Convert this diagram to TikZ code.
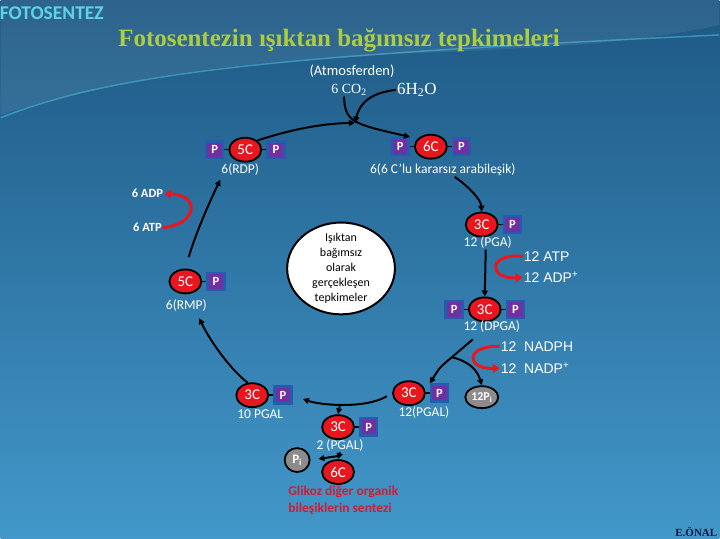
\documentclass[tikz,border=0pt]{standalone}
\usepackage{fontspec}
\setmainfont{Carlito}
\newfontfamily\titlefont{Liberation Serif}
\newfontfamily\armfont{Liberation Sans}
\usetikzlibrary{arrows.meta, positioning, calc, shapes.geometric}
\definecolor{bgtop}{RGB}{30,88,132}
\definecolor{bgbot}{RGB}{66,152,202}
\definecolor{cred}{RGB}{232,22,30}
\definecolor{ppurple}{RGB}{112,48,160}
\definecolor{pblue}{RGB}{36,92,176}
\definecolor{pigrey}{RGB}{140,140,140}
\definecolor{titlegreen}{RGB}{172,206,62}
\definecolor{headcyan}{RGB}{92,212,230}
\definecolor{glred}{RGB}{204,30,52}
\definecolor{signblue}{RGB}{20,24,64}
\tikzset{
  carb/.style  ={ellipse, draw=black, line width=1.8pt, fill=cred, text=white, inner sep=0pt,
                 minimum width=32pt, minimum height=24pt, font=\fontsize{15}{15}\selectfont},
  pbox/.style  ={draw=pblue, line width=2.6pt, fill=ppurple, text=white, minimum size=17pt,
                 inner sep=0pt, font=\bfseries\fontsize{12.5}{12.5}\selectfont},
  pion/.style  ={ellipse, draw=black, line width=1.8pt, fill=pigrey, text=white, inner sep=0pt,
                 minimum width=33pt, minimum height=22pt, font=\bfseries\fontsize{12}{12}\selectfont},
  lbl/.style   ={text=white, inner sep=1pt, font=\fontsize{13.5}{14}\selectfont},
  gas/.style   ={text=white, inner sep=1pt, font=\titlefont\fontsize{14}{14}\selectfont},
  side/.style  ={text=white, inner sep=1pt, font=\bfseries\fontsize{12.5}{13}\selectfont},
  arm/.style   ={text=white, inner sep=1pt, anchor=west, font=\armfont\fontsize{14}{14}\selectfont},
  core/.style  ={ellipse, draw=black, line width=2pt, fill=white, minimum width=108pt,
                 minimum height=92pt, inner sep=0pt},
  coretxt/.style={align=center, inner sep=0pt, font=\fontsize{12}{15}\selectfont},
  head/.style  ={text=headcyan, inner sep=0pt, anchor=west, font=\bfseries\fontsize{19.5}{19.5}\selectfont},
  ttl/.style   ={text=titlegreen, font=\titlefont\bfseries\fontsize{25}{25}\selectfont},
  gluc/.style  ={text=glred, align=left, anchor=west, inner sep=0pt, font=\bfseries\fontsize{13.5}{17}\selectfont},
  sign/.style  ={text=signblue, inner sep=0pt, font=\titlefont\bfseries\fontsize{11}{11}\selectfont},
  arr/.style   ={-{Triangle[length=6pt, width=6pt]}, line width=2pt},
  redarr/.style={-{Triangle[length=7pt, width=9pt]}, line width=3pt, draw=cred},
  bond/.style  ={line width=1.5pt},
}
\begin{document}
\begin{tikzpicture}[x=1pt, y=-1pt, node distance=4pt]
  \shade[top color=bgtop, bottom color=bgbot] (0,0) rectangle (720,540);
  \fill[white, opacity=0.07] (0,0) -- (720,0) -- (720,25) .. controls (520,70) and (260,30) .. (0,115) -- cycle;
  \draw[headcyan, opacity=0.45, line width=1.5pt] (0,118) .. controls (120,70) and (300,55) .. (720,35);
  \useasboundingbox (0,0) rectangle (720,540);

  \node[head] (head) at (-1,13) {FOTOSENTEZ};
  \node[ttl] (title) at (339,41) {Fotosentezin ışıktan bağımsız tepkimeleri};
  \node[lbl, font=\fontsize{14.5}{15}\selectfont] (atm) at (352,71) {(Atmosferden)};
  \node[gas] (co2) at (349,90) {6 CO\textsubscript{2}};
  \node[gas, font=\titlefont\fontsize{17}{17}\selectfont] (h2o) at (417,90) {6H\textsubscript{2}O};

  \node[carb] (c5a) at (245,150) {5C};
  \node[pbox, left=of c5a] (pa1) {P};
  \node[pbox, right=of c5a] (pa2) {P};
  \node[lbl] (lrdp) at (240,170) {6(RDP)};

  \node[carb] (c6a) at (431,147) {6C};
  \node[pbox, left=of c6a] (pb1) {P};
  \node[pbox, right=of c6a] (pb2) {P};
  \node[lbl] (l6c) at (443,170) {6(6 C'lu kararsız arabileşik)};

  \node[carb] (c3a) at (482,225) {3C};
  \node[pbox, right=of c3a] (pc1) {P};
  \node[lbl] (lpga) at (488,243) {12 (PGA)};

  \node[carb] (c3b) at (485,310) {3C};
  \node[pbox, left=of c3b] (pd1) {P};
  \node[pbox, right=of c3b] (pd2) {P};
  \node[lbl] (ldpga) at (492,327) {12 (DPGA)};

  \node[carb] (c3c) at (409,394) {3C};
  \node[pbox, right=of c3c] (pe1) {P};
  \node[lbl] (lpgal) at (424,413) {12(PGAL)};
  \node[pion] (pi12) at (482,398) {12P\textsubscript{i}};

  \node[carb] (c3d) at (252,396) {3C};
  \node[pbox, right=of c3d] (pf1) {P};
  \node[lbl] (l10) at (260,415) {10 PGAL};

  \node[carb] (c3e) at (338,428) {3C};
  \node[pbox, right=of c3e] (pg1) {P};
  \node[lbl] (l2) at (340,446) {2 (PGAL)};

  \node[pion, minimum width=25pt, minimum height=24pt, font=\bfseries\fontsize{13}{13}\selectfont] (pi) at (297,461) {P\textsubscript{i}};
  \node[carb] (c6b) at (338,473) {6C};
  \node[gluc] (glk) at (288,501) {Glikoz diğer organik\\bileşiklerin sentezi};

  \node[carb] (c5b) at (185,282) {5C};
  \node[pbox, right=of c5b] (ph1) {P};
  \node[lbl] (lrmp) at (186,306) {6(RMP)};

  \node[core] (core) at (341,269) {};
  \node[coretxt] (coret) at (core.center) {Işıktan\\bağımsız\\olarak\\gerçekleşen\\tepkimeler};

  \node[side] (adp6) at (147,194) {6 ADP};
  \node[side] (atp6) at (147,228) {6 ATP};
  \node[arm] (atp12) at (523,257) {12 ATP};
  \node[arm] (adp12) at (523,278) {12 ADP\textsuperscript{+}};
  \node[arm] (nadph) at (500,347) {12~~NADPH};
  \node[arm] (nadp) at (500,369) {12~~NADP\textsuperscript{+}};
  \node[sign] (sgn) at (697,533) {E.ÖNAL};

  \foreach \a/\b in {pa1/c5a, c5a/pa2, pb1/c6a, c6a/pb2, c3a/pc1, pd1/c3b, c3b/pd2,
                     c3c/pe1, c3d/pf1, c3e/pg1, c5b/ph1}
    \draw[bond] (\a) -- (\b);

  \coordinate (join) at (355,123);
  \coordinate (fk1) at (452,358);
  \coordinate (fk2) at (340,405);
  \coordinate (fk3) at (338,457);

  \draw[arr] (c5a.north east) .. controls (290,130) and (320,124) .. (join);
  \draw[arr] ([xshift=-5pt]co2.south) .. controls (345,122) and (352,124) .. (pb1.north east);
  \draw[arr] (h2o.west) .. controls (372,93) and (360,102) .. (join);
  \draw[arr] ([xshift=12pt]l6c.south) .. controls (470,188) and (481,200) .. (c3a.north);
  \draw[arr] ([xshift=-2pt]lpga.south) -- (c3b.north);
  \draw[line width=2pt] ($(ldpga.south)+(-19,6)$) -- (fk1);
  \draw[arr] (fk1) .. controls (440,368) .. (pe1.north west);
  \draw[arr] (fk1) .. controls (470,362) and (478,372) .. (pi12.north);
  \draw[arr, shorten <=6pt, shorten >=11pt] (c3c.west) .. controls (365,410) and (320,406) .. (pf1.east);
  \draw[arr] (fk2) -- (c3e.north);
  \draw[arr, shorten >=2pt] (c3d.110) .. controls (230,370) and (210,342) .. ($(lrmp.south)+(12,4)$);
  \draw[arr, shorten <=12pt] (c5b.north) .. controls (195,235) and (208,205) .. ($(lrdp.south west)+(0,3)$);
  \draw[arr] (l2.south) -- (c6b.north);
  \draw[arr, shorten >=8pt] (fk3) -- (pi.east);

  \draw[redarr] (atp6.east) .. controls (195,226) and (202,196) .. (adp6.east);
  \draw[redarr] (atp12.west) .. controls (488,253) and (488,280) .. (adp12.west);
  \draw[redarr] (nadph.west) .. controls (465,346) and (466,370) .. (nadp.west);
\end{tikzpicture}
\end{document}
